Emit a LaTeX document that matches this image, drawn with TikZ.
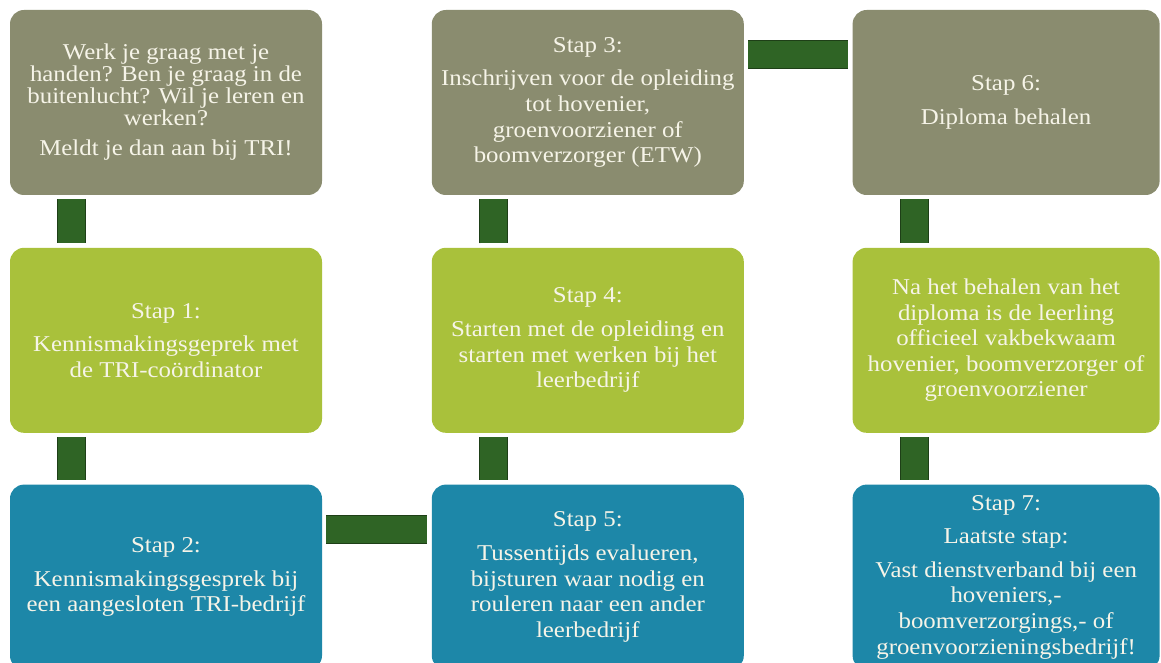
\documentclass[tikz,border=0pt]{standalone}
\usepackage{fontspec}
\setmainfont{Liberation Serif}[FakeStretch=1.1]
\usetikzlibrary{positioning}

\definecolor{stepgray}{HTML}{8A8C6F}
\definecolor{steplime}{HTML}{A9C13B}
\definecolor{stepblue}{HTML}{1D87A8}
\definecolor{linkgreen}{HTML}{2F6425}
\definecolor{linkdark}{HTML}{1E3F17}
\definecolor{steptext}{HTML}{F6F4E8}

\begin{document}
\begin{tikzpicture}[
    x=0.5pt, y=-0.5pt,
    every node/.style={align=center},
    card/.style={rounded corners=7pt, text=steptext, inner sep=3pt,
                 minimum width=156pt, minimum height=92.5pt,
                 font=\fontsize{11.3}{12.8}\selectfont},
    graycard/.style={card, fill=stepgray},
    limecard/.style={card, fill=steplime},
    bluecard/.style={card, fill=stepblue},
    link/.style={draw=linkdark, line width=0.5pt, double=linkgreen,
                 double distance=13.5pt, shorten <=2pt, shorten >=2pt},
    node distance=26pt and 54.5pt
]
\path[use as bounding box, clip] (0,0) rectangle (1161,663);

% 1) Top row (gray).
\node[graycard, font=\fontsize{11.3}{11}\selectfont] (intro) at (166,102.5)
   {Werk je graag met je\\ handen? Ben je graag in de\\ buitenlucht? Wil je leren en\\ werken?\\[4pt]
    Meldt je dan aan bij TRI!};
\node[graycard, right=of intro] (stap3)
   {Stap 3:\\[4pt] Inschrijven voor de opleiding\\ tot hovenier,\\ groenvoorziener of\\ boomverzorger (ETW)};
\node[graycard, minimum width=153.5pt, right=54pt of stap3] (stap6)
   {Stap 6:\\[4pt] Diploma behalen};

% 2) Middle row (lime).
\node[limecard, below=of intro] (stap1)
   {Stap 1:\\[4pt] Kennismakingsgeprek met\\ de TRI-coördinator};
\node[limecard, below=of stap3] (stap4)
   {Stap 4:\\[4pt] Starten met de opleiding en\\ starten met werken bij het\\ leerbedrijf};
\node[limecard, minimum width=153.5pt, below=of stap6] (result)
   {Na het behalen van het\\ diploma is de leerling\\ officieel vakbekwaam\\ hovenier, boomverzorger of\\ groenvoorziener};

% 3) Bottom row (blue), cut off by the page edge.
\node[bluecard, below=25.5pt of stap1] (stap2)
   {Stap 2:\\[4pt] Kennismakingsgesprek bij\\ een aangesloten TRI-bedrijf};
\node[bluecard, below=25.5pt of stap4] (stap5)
   {Stap 5:\\[4pt] Tussentijds evalueren,\\ bijsturen waar nodig en\\ rouleren naar een ander\\ leerbedrijf};
\node[bluecard, minimum width=153.5pt, below=25.5pt of result] (stap7)
   {Stap 7:\\[4pt] Laatste stap:\\[4pt] Vast dienstverband bij een\\ hoveniers,-\\ boomverzorgings,- of\\ groenvoorzieningsbedrijf!};

% 4) Green bars between the steps.
\draw[link] ([xshift=31pt]intro.south west) -- ([xshift=31pt]stap1.north west);
\draw[link] ([xshift=31pt]stap1.south west) -- ([xshift=31pt]stap2.north west);
\draw[link] ([yshift=-22.5pt]stap2.north east) -- ([yshift=-22.5pt]stap5.north west);
\draw[link] ([xshift=31pt]stap5.north west) -- ([xshift=31pt]stap4.south west);
\draw[link] ([xshift=31pt]stap4.north west) -- ([xshift=31pt]stap3.south west);
\draw[link] ([yshift=-22.5pt]stap3.north east) -- ([yshift=-22.5pt]stap6.north west);
\draw[link] ([xshift=31pt]stap6.south west) -- ([xshift=31pt]result.north west);
\draw[link] ([xshift=31pt]result.south west) -- ([xshift=31pt]stap7.north west);

\end{tikzpicture}
\end{document}
